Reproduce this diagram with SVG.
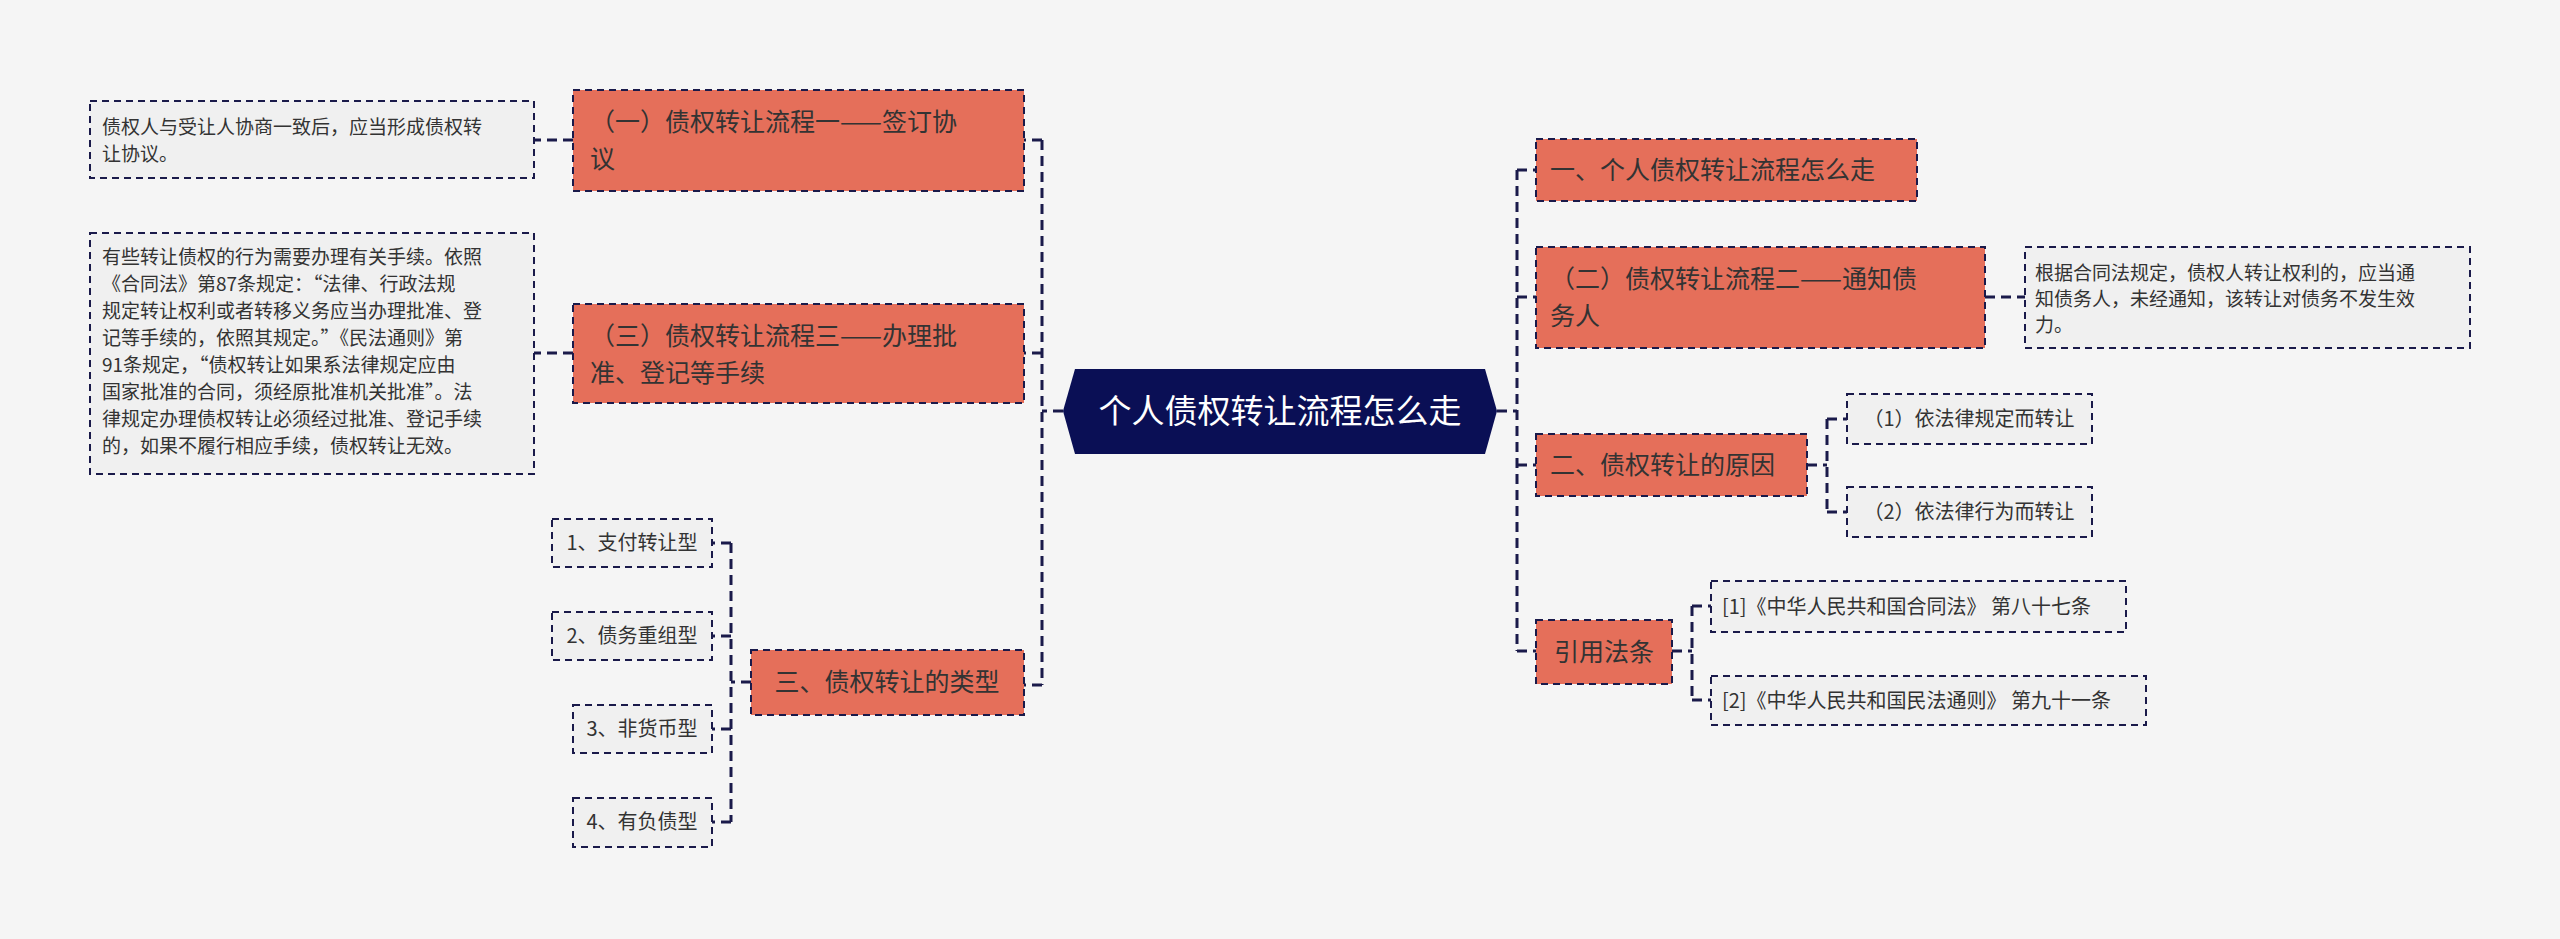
<svg xmlns="http://www.w3.org/2000/svg" width="2560" height="939" viewBox="0 0 2560 939">
<style>
text{font-family:"Noto Sans CJK SC","Liberation Sans",sans-serif;fill:#333}
.m{fill:#e56f5a;stroke:#1a1a4a;stroke-width:2;stroke-dasharray:7 5}
.l{fill:#f0f0f0;stroke:#1a1a4a;stroke-width:2;stroke-dasharray:7 5}
.mt{font-size:25px}
.lt{font-size:19px}
.st{font-size:20px}
.c{fill:none;stroke:#1a1a4a;stroke-width:3;stroke-dasharray:10 6}
</style>
<rect width="2560" height="939" fill="#f5f5f5"/>
<g id="connectors">
<path class="c" d="M1063 411H1042M1042 140V685M1042 140H1024M1042 353H1024M1042 685H1024"/>
<path class="c" d="M1497 411H1517M1517 170V651M1517 170H1536M1517 297H1536M1517 465H1536M1517 651H1536"/>
<path class="c" d="M573 140H534M573 353H534"/>
<path class="c" d="M751 682H731M731 543V822M731 543H712M731 636H712M731 729H712M731 822H712"/>
<path class="c" d="M1985 297H2025"/>
<path class="c" d="M1807 465H1827M1827 419V512M1827 419H1847M1827 512H1847"/>
<path class="c" d="M1672 651H1692M1692 606V700M1692 606H1711M1692 700H1711"/>
</g>
<g id="center"><polygon points="1075,369 1485,369 1497,411 1485,454 1075,454 1063,411" fill="#0a0f55"/><text x="1280" y="423" font-size="33" text-anchor="middle" style="fill:#fff">个人债权转让流程怎么走</text></g>
<g id="n1"><rect class="m" x="573" y="90" width="451" height="101"/><text class="mt" x="590" y="131">（一）债权转让流程一——签订协</text><text class="mt" x="590" y="168">议</text></g>
<g id="n1l"><rect class="l" x="90" y="101" width="444" height="77"/><text class="lt" x="102" y="134">债权人与受让人协商一致后，应当形成债权转</text><text class="lt" x="102" y="161">让协议。</text></g>
<g id="n3"><rect class="m" x="573" y="304" width="451" height="99"/><text class="mt" x="590" y="345">（三）债权转让流程三——办理批</text><text class="mt" x="590" y="382">准、登记等手续</text></g>
<g id="n3l"><rect class="l" x="90" y="233" width="444" height="241"/>
<text class="lt" x="102" y="264">有些转让债权的行为需要办理有关手续。依照</text>
<text class="lt" x="102" y="291">《合同法》第87条规定：“法律、行政法规</text>
<text class="lt" x="102" y="318">规定转让权利或者转移义务应当办理批准、登</text>
<text class="lt" x="102" y="345">记等手续的，依照其规定。”《民法通则》第</text>
<text class="lt" x="102" y="372">91条规定，“债权转让如果系法律规定应由</text>
<text class="lt" x="102" y="399">国家批准的合同，须经原批准机关批准”。法</text>
<text class="lt" x="102" y="426">律规定办理债权转让必须经过批准、登记手续</text>
<text class="lt" x="102" y="453">的，如果不履行相应手续，债权转让无效。</text></g>
<g id="n4"><rect class="m" x="751" y="650" width="273" height="65"/><text class="mt" x="887" y="691" text-anchor="middle">三、债权转让的类型</text></g>
<g id="t1"><rect class="l" x="552" y="519" width="160" height="48"/><text class="st" x="632" y="550" text-anchor="middle">1、支付转让型</text></g>
<g id="t2"><rect class="l" x="552" y="612" width="160" height="48"/><text class="st" x="632" y="643" text-anchor="middle">2、债务重组型</text></g>
<g id="t3"><rect class="l" x="573" y="705" width="139" height="48"/><text class="st" x="642" y="736" text-anchor="middle">3、非货币型</text></g>
<g id="t4"><rect class="l" x="573" y="798" width="139" height="49"/><text class="st" x="642" y="829" text-anchor="middle">4、有负债型</text></g>
<g id="r1"><rect class="m" x="1536" y="139" width="381" height="62"/><text class="mt" x="1550" y="179">一、个人债权转让流程怎么走</text></g>
<g id="r2"><rect class="m" x="1536" y="247" width="449" height="101"/><text class="mt" x="1550" y="288">（二）债权转让流程二——通知债</text><text class="mt" x="1550" y="325">务人</text></g>
<g id="r2l"><rect class="l" x="2025" y="247" width="445" height="101"/><text class="lt" x="2035" y="280">根据合同法规定，债权人转让权利的，应当通</text><text class="lt" x="2035" y="306">知债务人，未经通知，该转让对债务不发生效</text><text class="lt" x="2035" y="332">力。</text></g>
<g id="r3"><rect class="m" x="1536" y="434" width="271" height="62"/><text class="mt" x="1550" y="474">二、债权转让的原因</text></g>
<g id="r3a"><rect class="l" x="1847" y="394" width="245" height="50"/><text class="st" x="1969" y="426" text-anchor="middle">（1）依法律规定而转让</text></g>
<g id="r3b"><rect class="l" x="1847" y="487" width="245" height="50"/><text class="st" x="1969" y="519" text-anchor="middle">（2）依法律行为而转让</text></g>
<g id="r4"><rect class="m" x="1536" y="620" width="136" height="64"/><text class="mt" x="1604" y="661" text-anchor="middle">引用法条</text></g>
<g id="r4a"><rect class="l" x="1711" y="581" width="415" height="51"/><text class="st" x="1722" y="614">[1]《中华人民共和国合同法》 第八十七条</text></g>
<g id="r4b"><rect class="l" x="1711" y="676" width="435" height="49"/><text class="st" x="1722" y="708">[2]《中华人民共和国民法通则》 第九十一条</text></g>
</svg>
